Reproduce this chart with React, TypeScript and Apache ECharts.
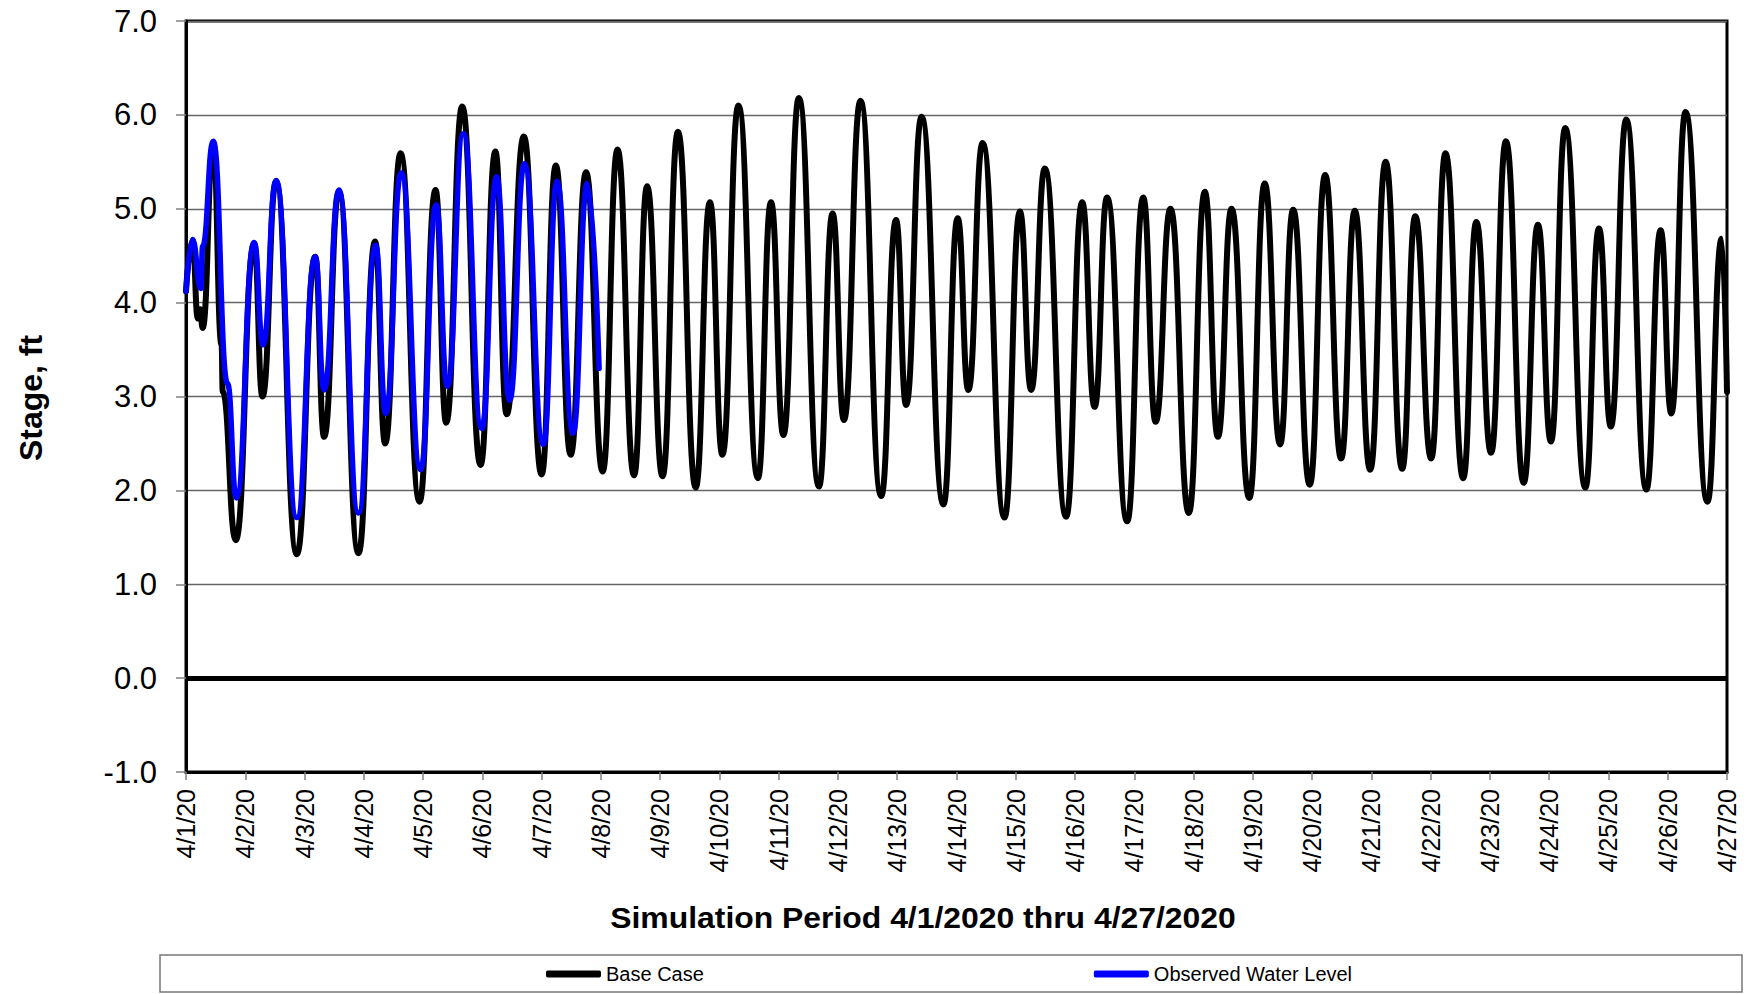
import React, { useEffect, useRef } from 'react';
import * as echarts from 'echarts';

const xTickLabels = [
  '4/1/20', '4/2/20', '4/3/20', '4/4/20', '4/5/20', '4/6/20', '4/7/20', '4/8/20', '4/9/20',
  '4/10/20', '4/11/20', '4/12/20', '4/13/20', '4/14/20', '4/15/20', '4/16/20', '4/17/20', '4/18/20',
  '4/19/20', '4/20/20', '4/21/20', '4/22/20', '4/23/20', '4/24/20', '4/25/20', '4/26/20', '4/27/20',
];

// Base Case: time in days since 4/1/2020 00:00 and stage (ft) at turning points
const baseDays = [
  0, 0.11, 0.2, 0.24, 0.28, 0.46, 0.6, 0.62, 0.84, 1.15, 1.29, 1.52, 1.87, 2.18, 2.33, 2.58, 2.91,
  3.19, 3.36, 3.62, 3.94, 4.21, 4.39, 4.66, 4.97, 5.22, 5.41, 5.7, 6.0, 6.24, 6.49, 6.75, 7.03,
  7.28, 7.56, 7.78, 8.04, 8.3, 8.6, 8.84, 9.05, 9.32, 9.65, 9.87, 10.08, 10.34, 10.68, 10.91, 11.1,
  11.38, 11.73, 11.98, 12.15, 12.41, 12.78, 13.02, 13.2, 13.44, 13.81, 14.07, 14.26, 14.49, 14.85,
  15.12, 15.33, 15.54, 15.88, 16.15, 16.36, 16.61, 16.92, 17.19, 17.41, 17.64, 17.94, 18.2, 18.46,
  18.68, 18.96, 19.22, 19.49, 19.72, 19.98, 20.24, 20.52, 20.74, 21.01, 21.25, 21.55, 21.77, 22.02,
  22.27, 22.57, 22.81, 23.03, 23.27, 23.61, 23.84, 24.04, 24.3, 24.64, 24.88, 25.06, 25.3, 25.67,
  25.91, 26.0,
];
const baseStage = [
  4.12, 4.67, 3.83, 3.93, 3.73, 5.69, 3.55, 3.05, 1.47, 4.63, 3.0, 5.29, 1.32, 4.49, 2.57, 5.18, 1.33,
  4.65, 2.5, 5.59, 1.88, 5.2, 2.72, 6.09, 2.27, 5.61, 2.81, 5.77, 2.17, 5.46, 2.38, 5.39, 2.2,
  5.63, 2.16, 5.24, 2.15, 5.82, 2.03, 5.07, 2.38, 6.1, 2.13, 5.07, 2.59, 6.18, 2.04, 4.95, 2.75,
  6.15, 1.94, 4.88, 2.91, 5.98, 1.85, 4.9, 3.07, 5.7, 1.71, 4.97, 3.07, 5.43, 1.72,
  5.07, 2.89, 5.12, 1.67, 5.12, 2.73, 5.0, 1.76, 5.18, 2.57, 5.0, 1.92, 5.27, 2.49,
  4.99, 2.06, 5.36, 2.34, 4.98, 2.22, 5.5, 2.23, 4.92, 2.34, 5.59, 2.13, 4.86, 2.4,
  5.72, 2.08, 4.83, 2.52, 5.86, 2.03, 4.79, 2.68, 5.95, 2.01, 4.77, 2.82, 6.03, 1.88,
  4.68, 3.05,
];

// Observed Water Level
const obsDays = [
  0, 0.11, 0.25, 0.28, 0.46, 0.7, 0.85, 1.15, 1.3, 1.52, 1.87, 2.18, 2.33, 2.58, 2.91, 3.2, 3.37,
  3.63, 3.96, 4.22, 4.41, 4.68, 4.99, 5.24, 5.46, 5.71, 6.03, 6.26, 6.53, 6.77, 6.97,
];
const obsStage = [
  4.12, 4.67, 4.15, 4.6, 5.72, 3.14, 1.92, 4.64, 3.55, 5.3, 1.71, 4.49, 3.07, 5.2, 1.76, 4.61, 2.82,
  5.38, 2.22, 5.04, 3.11, 5.8, 2.66, 5.34, 2.96, 5.48, 2.49, 5.29, 2.61, 5.27, 3.3,
];

const FONT = '"Liberation Sans", Arial, sans-serif';

export default function App() {
  const ref = useRef<HTMLDivElement>(null);

  useEffect(() => {
    const chart = echarts.init(ref.current as HTMLDivElement, null, { renderer: 'svg' });
    const baseData = baseDays.map((d, i) => [d, baseStage[i]]);
    const obsData = obsDays.map((d, i) => [d, obsStage[i]]);

    chart.setOption({
      animation: false,
      backgroundColor: '#ffffff',
      textStyle: { fontFamily: FONT },
      grid: {
        left: 186,
        top: 21,
        width: 1541,
        height: 751,
        show: true,
        borderColor: '#000',
        borderWidth: 3,
        backgroundColor: 'transparent',
      },
      xAxis: {
        type: 'value',
        min: 0,
        max: 26,
        interval: 1,
        axisLine: { onZero: false, lineStyle: { color: '#000', width: 3 } },
        axisTick: { show: true, length: 8, lineStyle: { color: '#808080', width: 1.5 } },
        splitLine: { show: false },
        axisLabel: {
          rotate: 90,
          fontSize: 25,
          color: '#000',
          fontFamily: FONT,
          margin: 17,
          showMinLabel: true,
          showMaxLabel: true,
          formatter: (v: number) => xTickLabels[Math.round(v)] ?? '',
        },
      },
      yAxis: {
        type: 'value',
        min: -1,
        max: 7,
        interval: 1,
        axisLine: { show: true, lineStyle: { color: '#000', width: 3 } },
        axisTick: { show: true, length: 10, lineStyle: { color: '#808080', width: 1.5 } },
        splitLine: { show: true, lineStyle: { color: '#666', width: 1.3 } },
        axisLabel: {
          fontSize: 31,
          color: '#000',
          fontFamily: FONT,
          margin: 29,
          formatter: (v: number) => v.toFixed(1),
        },
      },
      legend: {
        data: ['Base Case', 'Observed Water Level'],
        left: 541,
        top: 959,
        itemWidth: 55,
        itemHeight: 7,
        itemGap: 390,
        itemTextGap: 5,
        icon: 'roundRect',
        textStyle: { fontSize: 20, color: '#000', fontFamily: FONT },
      },
      graphic: [
        {
          type: 'rect',
          shape: { x: 160, y: 955, width: 1582, height: 37 },
          style: { fill: 'none', stroke: '#777', lineWidth: 1.5 },
          z: -1,
        },
        {
          type: 'text',
          x: 31,
          y: 398,
          rotation: Math.PI / 2,
          style: {
            text: 'Stage, ft',
            fontSize: 32,
            fontWeight: 'bold',
            fontFamily: FONT,
            fill: '#000',
            align: 'center',
            verticalAlign: 'middle',
          },
        },
        {
          type: 'text',
          x: 923,
          y: 918,
          scaleX: 1.1,
          style: {
            text: 'Simulation Period 4/1/2020 thru 4/27/2020',
            fontSize: 29,
            fontWeight: 'bold',
            fontFamily: FONT,
            fill: '#000',
            align: 'center',
            verticalAlign: 'middle',
          },
        },
      ],
      series: [
        {
          name: 'Base Case',
          type: 'line',
          data: baseData,
          showSymbol: false,
          symbol: 'none',
          smooth: 0.5,
          smoothMonotone: 'x',
          lineStyle: { color: '#000', width: 6, join: 'round', cap: 'round' },
          itemStyle: { color: '#000' },
          z: 3,
          markLine: {
            silent: true,
            symbol: ['none', 'none'],
            label: { show: false },
            lineStyle: { color: '#000', width: 5, type: 'solid' },
            data: [{ yAxis: 0 }],
          },
        },
        {
          name: 'Observed Water Level',
          type: 'line',
          data: obsData,
          showSymbol: false,
          symbol: 'none',
          smooth: 0.5,
          smoothMonotone: 'x',
          lineStyle: { color: '#0000ff', width: 5.5, join: 'round', cap: 'round' },
          itemStyle: { color: '#0000ff' },
          z: 4,
        },
      ],
    });

    return () => chart.dispose();
  }, []);

  return (
    <div
      ref={ref}
      style={{ position: 'fixed', left: 0, top: 0, width: 1753, height: 994, background: '#fff' }}
    />
  );
}
